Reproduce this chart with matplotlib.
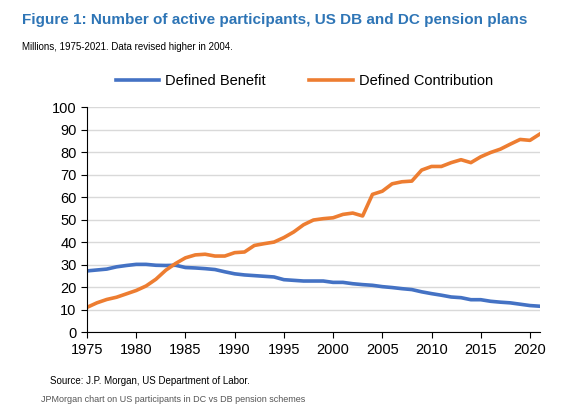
import matplotlib.pyplot as plt

years = list(range(1975, 2022))
defined_benefit = [27.2, 27.6, 28.0, 29.0, 29.6, 30.1, 30.1, 29.7, 29.6, 29.7,
                   28.7, 28.5, 28.2, 27.8, 26.8, 25.9, 25.4, 25.1, 24.8, 24.5,
                   23.3, 23.0, 22.7, 22.7, 22.7, 22.1, 22.1, 21.5, 21.1, 20.8,
                   20.2, 19.8, 19.3, 18.9, 17.9, 17.1, 16.4, 15.6, 15.3, 14.4,
                   14.4, 13.7, 13.3, 13.0, 12.4, 11.8, 11.5]
defined_contribution = [11.0, 13.0, 14.5, 15.5, 17.0, 18.5, 20.5, 23.5, 27.5, 30.5,
                        33.0, 34.3, 34.6, 33.8, 33.8, 35.3, 35.6, 38.5, 39.3, 40.0,
                        42.0, 44.5, 47.7, 49.8, 50.4, 50.8, 52.3, 52.9, 51.6, 61.2,
                        62.6, 65.9, 66.8, 67.1, 72.0, 73.6, 73.6, 75.3, 76.6, 75.3,
                        77.9, 79.8, 81.3, 83.5, 85.6, 85.2, 88.0]

plt.rcParams['font.family'] = ['Liberation Sans', 'DejaVu Sans']
fig = plt.figure(figsize=(5.88, 4.07), dpi=100)
ax = fig.add_axes([0.148, 0.184, 0.77, 0.553])

ax.plot(years, defined_benefit, color='#4472C4', lw=2.6, label='Defined Benefit')
ax.plot(years, defined_contribution, color='#ED7D31', lw=2.6, label='Defined Contribution')

ax.set_xlim(1975, 2021)
ax.set_ylim(0, 100)
ax.set_xticks(range(1975, 2021, 5))
ax.set_yticks(range(0, 101, 10))
ax.tick_params(labelsize=10.5, length=4)
ax.grid(axis='y', color='#d9d9d9', lw=1)
ax.set_axisbelow(True)
for s in ['top', 'right']:
    ax.spines[s].set_visible(False)

ax.legend(loc='lower center', bbox_to_anchor=(0.48, 1.06), ncol=2, frameon=False,
          fontsize=10.5, handlelength=3.0, handletextpad=0.4, columnspacing=3.0,
          borderaxespad=0)

fig.text(0.037, 0.94, 'Figure 1: Number of active participants, US DB and DC pension plans',
         color='#2E75B6', fontsize=11, fontweight='bold')
fig.text(0.037, 0.877, 'Millions, 1975-2021. Data revised higher in 2004.', fontsize=7)
fig.text(0.085, 0.057, 'Source: J.P. Morgan, US Department of Labor.', fontsize=7)
fig.text(0.07, 0.012, 'JPMorgan chart on US participants in DC vs DB pension schemes',
         fontsize=6.5, color='#555555')

fig.savefig('out.png')
